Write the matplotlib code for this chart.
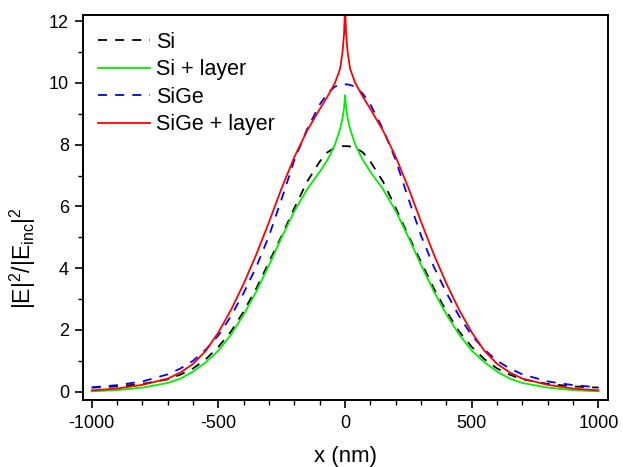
import matplotlib
matplotlib.use("Agg")
import matplotlib.pyplot as plt
from matplotlib.ticker import MultipleLocator

plt.rcParams['font.family'] = ['Liberation Sans', 'DejaVu Sans']
plt.rcParams['mathtext.fontset'] = 'custom'
plt.rcParams['mathtext.rm'] = 'Liberation Sans'
plt.rcParams['mathtext.it'] = 'Liberation Sans'
plt.rcParams['mathtext.default'] = 'regular'
plt.rcParams['axes.unicode_minus'] = False

x_nm = [-1000, -900, -800, -700, -650, -600, -550, -500, -450, -400, -350, -300, -250,
        -200, -150, -100, -70, -40, -20, -10, -4, 0, 4, 10, 20, 40, 70, 100, 150, 200,
        250, 300, 350, 400, 450, 500, 550, 600, 650, 700, 800, 900, 1000]

si = [0.13, 0.17, 0.25, 0.40, 0.55, 0.75, 1.05, 1.45, 1.95, 2.60, 3.35, 4.20, 5.05,
      5.95, 6.80, 7.45, 7.75, 7.90, 7.94, 7.95, 7.95, 7.95, 7.95, 7.95, 7.94, 7.90, 7.75,
      7.45, 6.80, 5.95, 5.05, 4.20, 3.35, 2.60, 1.95, 1.45, 1.05, 0.75, 0.55, 0.40, 0.25,
      0.17, 0.13]

si_layer = [0.01, 0.05, 0.13, 0.28, 0.42, 0.65, 0.95, 1.33, 1.85, 2.50, 3.25, 4.10, 5.00,
            5.85, 6.55, 7.12, 7.50, 8.00, 8.50, 8.85, 9.20, 9.60, 9.20, 8.85, 8.50, 8.00,
            7.50, 7.12, 6.55, 5.85, 5.00, 4.10, 3.25, 2.50, 1.85, 1.33, 0.95, 0.65, 0.42,
            0.28, 0.13, 0.05, 0.01]

sige = [0.14, 0.21, 0.33, 0.56, 0.75, 1.00, 1.36, 1.82, 2.45, 3.20, 4.05, 5.05, 6.25,
        7.50, 8.50, 9.30, 9.65, 9.88, 9.93, 9.95, 9.95, 9.95, 9.95, 9.95, 9.93, 9.88, 9.65,
        9.30, 8.50, 7.50, 6.25, 5.05, 4.05, 3.20, 2.45, 1.82, 1.36, 1.00, 0.75, 0.56, 0.33,
        0.21, 0.14]

sige_layer = [0.04, 0.10, 0.22, 0.42, 0.62, 0.90, 1.32, 1.92, 2.65, 3.50, 4.45, 5.50, 6.60,
              7.60, 8.45, 9.15, 9.55, 10.00, 10.45, 11.00, 11.60, 12.50, 11.60, 11.00, 10.45,
              10.00, 9.55, 9.15, 8.45, 7.60, 6.60, 5.50, 4.45, 3.50, 2.65, 1.92, 1.32, 0.90,
              0.62, 0.42, 0.22, 0.10, 0.04]

labels = ["Si", "Si + layer", "SiGe", "SiGe + layer"]
x_ticks = [-1000, -500, 0, 500, 1000]
y_ticks = [0, 2, 4, 6, 8, 10, 12]

fig = plt.figure(figsize=(6.23, 4.67), dpi=100)
ax = fig.add_axes([0.133, 0.1435, 0.843, 0.8245])

ax.plot(x_nm, si, color='black', lw=1.3, ls=(0, (5, 4.5)), label=labels[0])
ax.plot(x_nm, si_layer, color='#00ee00', lw=1.3, label=labels[1])
ax.plot(x_nm, sige, color='#0000ff', lw=1.3, ls=(0, (5, 4.5)), label=labels[2])
ax.plot(x_nm, sige_layer, color='#ff0000', lw=1.3, label=labels[3])

ax.set_xlim(-1035, 1038)
ax.set_ylim(-0.27, 12.2)
ax.set_xticks(x_ticks)
ax.set_yticks(y_ticks)
ax.xaxis.set_minor_locator(MultipleLocator(100))
ax.yaxis.set_minor_locator(MultipleLocator(1))
ax.tick_params(which='major', direction='out', length=6, width=1.2, labelsize=13, pad=4)
ax.tick_params(axis='x', which='major', pad=5)
ax.tick_params(which='minor', direction='out', length=3.5, width=1.0)
for s in ax.spines.values():
    s.set_linewidth(1.4)

ax.set_xlabel("x (nm)", fontsize=16, labelpad=10)
ax.set_ylabel("|E|$^{2}$/|E$_{inc}$|$^{2}$", fontsize=16.5)
ax.yaxis.set_label_coords(-0.085, 0.37)

ax.legend(loc='upper left', frameon=False, fontsize=15.5, handlelength=2.4,
          bbox_to_anchor=(0.0, 0.995), borderaxespad=0.3, labelspacing=0.3,
          handletextpad=0.3)

fig.savefig("out.png", dpi=100)
